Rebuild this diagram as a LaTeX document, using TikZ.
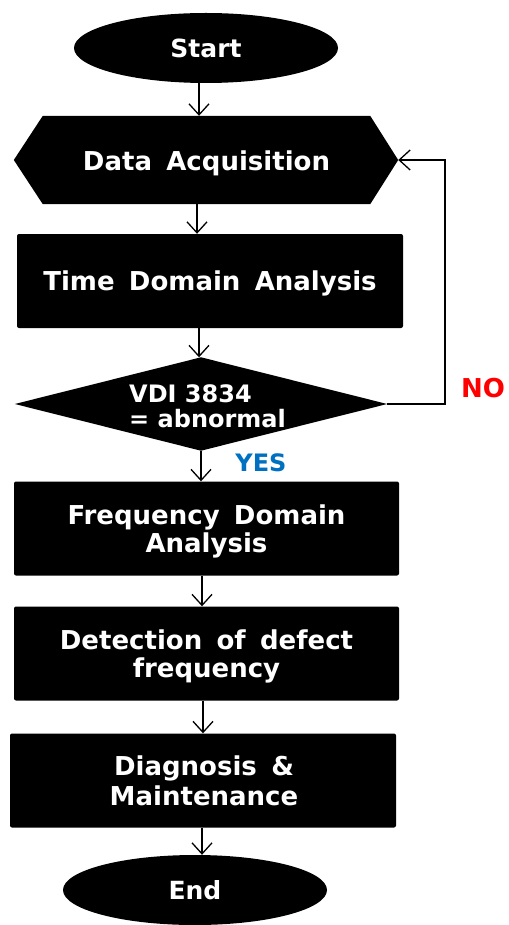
\documentclass[tikz,border=0pt]{standalone}
\usepackage{fontspec}
\setmainfont{DejaVu Sans}
\usetikzlibrary{arrows.meta,shapes.geometric,calc}
\definecolor{yesblue}{RGB}{0,112,192}
\definecolor{nored}{RGB}{255,0,0}
\newcommand{\fs}[2]{\bfseries\fontsize{#1}{#2}\selectfont}
\newcommand{\wsp}{\hspace{0.55em}}
\tikzset{
  flowlabel/.style={text=white,align=center,inner sep=0pt},
  terminal/.style={ellipse,fill=black,flowlabel,minimum width=264pt,minimum height=70pt},
  procbox/.style={rectangle,rounded corners=2pt,fill=black,inner sep=0pt,minimum height=94pt},
  frame/.style={rectangle,inner sep=0pt},
  flow/.style={line width=1.3pt,-{Straight Barb[length=11pt,width=20pt,line width=1.3pt]}},
  answer/.style={inner sep=0pt}
}
\begin{document}
\begin{tikzpicture}[x=1pt,y=-1pt]
\useasboundingbox (0,0) rectangle (508,925);

% terminals
\node[terminal,font=\fs{25}{28}] (start) at (206,48) {Start};
\node[terminal,font=\fs{25}{28}] (end) at (195,890) {End};

% data acquisition (hexagon drawn around a frame node)
\node[frame,minimum width=384pt,minimum height=88pt] (daq) at (206,160) {};
\fill (daq.west) -- ($(daq.north west)+(29,0)$) -- ($(daq.north east)+(-28,0)$)
  -- (daq.east) -- ($(daq.south east)+(-28,0)$) -- ($(daq.south west)+(29,0)$) -- cycle;
\node[flowlabel,font=\fs{26}{30}] (daqtext) at (206.5,163) {Data\wsp Acquisition};

% time domain box
\node[procbox,minimum width=386pt] (tda) at (210,281) {};
\node[flowlabel,font=\fs{26}{30}] (tdatext) at (210,283) {Time\wsp Domain\wsp Analysis};

% decision (diamond drawn around a frame node)
\node[frame,minimum width=372pt,minimum height=93pt] (vdi) at (201,404) {};
\fill (vdi.west) -- (vdi.north) -- (vdi.east) -- (vdi.south) -- cycle;
\node[flowlabel,align=left,anchor=west,font=\fs{24}{25}] (vditext) at (129,406) {VDI 3834\\= abnormal};

% remaining process boxes
\node[procbox,minimum width=385pt] (fda) at (206.5,528.5) {};
\node[flowlabel,font=\fs{26}{28}] (fdatext) at (206.5,531) {Frequency\wsp Domain\\Analysis};
\node[procbox,minimum width=385pt] (det) at (206.5,653.5) {};
\node[flowlabel,font=\fs{26}{28}] (dettext) at (206.5,656) {Detection\wsp of\wsp defect\\frequency};
\node[procbox,minimum width=386pt] (dia) at (203,780.5) {};
\node[flowlabel,font=\fs{26}{30}] (diatext) at (204,781) {Diagnosis\wsp\&\\Maintenance};

% branch labels
\node[answer,text=nored,font=\fs{26}{28}] (no) at (483,388) {NO};
\node[answer,text=yesblue,font=\fs{24}{28}] (yes) at (261,463) {YES};

% connectors
\draw[flow] (start.south -| 199,0) -- (daq.north -| 199,0);
\draw[flow] (daq.south -| 197,0) -- (tda.north -| 197,0);
\draw[flow] (tda.south -| 199,0) -- (vdi.north -| 199,0);
\draw[flow] (vdi.south) -- (fda.north -| 201,0);
\draw[flow] (fda.south -| 202,0) -- (det.north -| 202,0);
\draw[flow] (det.south -| 203,0) -- (dia.north -| 203,0);
\draw[flow] (dia.south -| 202,0) -- (end.north -| 202,0);
\coordinate (loopx) at (445,0);
\draw[flow] (vdi.east) -- (vdi.east -| loopx) -- (daq.east -| loopx) -- (daq.east);
\end{tikzpicture}
\end{document}
